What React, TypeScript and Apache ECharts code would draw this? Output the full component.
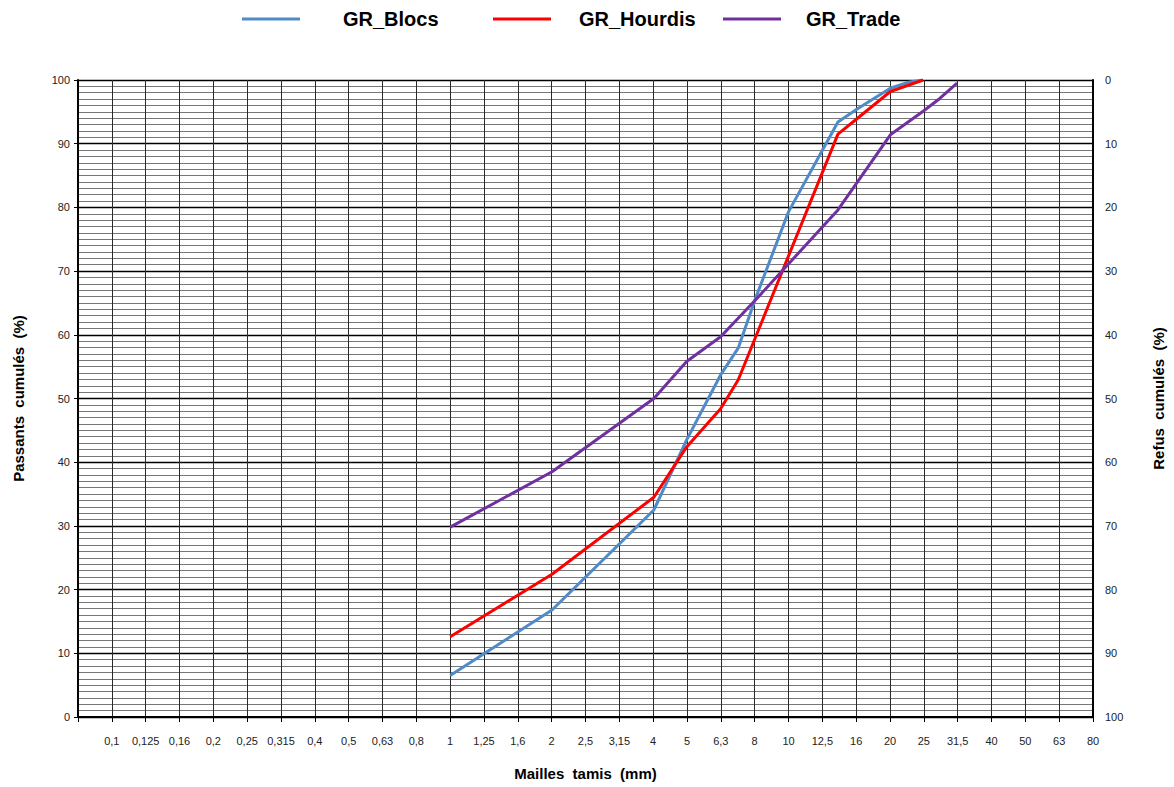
import React, { useEffect, useRef } from "react";
import * as echarts from "echarts";

// Sieve tick labels (R10 series), first grid line (0,08) unlabeled
const tickLabels = [
  "", "0,1", "0,125", "0,16", "0,2", "0,25", "0,315", "0,4", "0,5", "0,63", "0,8",
  "1", "1,25", "1,6", "2", "2,5", "3,15", "4", "5", "6,3", "8", "10", "12,5",
  "16", "20", "25", "31,5", "40", "50", "63", "80",
];

const seriesNames = ["GR_Blocs", "GR_Hourdis", "GR_Trade"];
const seriesColors = ["#4F8AC9", "#FF0000", "#7030A0"];

const blocsSizes = [1, 2, 4, 5, 6.3, 7.1, 8, 10, 14, 16, 20, 22.4, 25];
const blocsValues = [6.5, 16.8, 32.5, 43.5, 53.7, 57.9, 65.8, 79.3, 93.4, 95.5, 98.7, 99.6, 100];

const hourdisSizes = [1, 2, 4, 5, 6.3, 7.1, 14, 16, 20, 25];
const hourdisValues = [12.6, 22.4, 34.5, 42.4, 48.4, 52.9, 91.5, 94, 98.2, 100];

const tradeSizes = [1, 2, 4, 5, 6.3, 8, 14, 20, 25, 28, 31.5];
const tradeValues = [29.8, 38.5, 50, 55.8, 59.7, 65.5, 79.6, 91.4, 95.1, 97.1, 99.5];

const FONT = "'Liberation Sans', Arial, sans-serif";
const NARROW = "'Liberation Sans Narrow', 'Liberation Sans', Arial, sans-serif";

// log scale position: 10*log10(size) -> one grid step per R10 sieve
const toX = (s: number) => 10 * Math.log10(s);

export default function App() {
  const ref = useRef<HTMLDivElement>(null);
  useEffect(() => {
    if (!ref.current) return;
    const chart = echarts.init(ref.current, undefined, { renderer: "svg" });
    const sizesList = [blocsSizes, hourdisSizes, tradeSizes];
    const valuesList = [blocsValues, hourdisValues, tradeValues];
    const legendLefts = [237, 488, 718];
    const legendPads = [38, 23, 20];
    chart.setOption({
      animation: false,
      backgroundColor: "#ffffff",
      legend: seriesNames.map((n, i) => ({
        data: [n],
        left: legendLefts[i],
        top: 4,
        icon: "rect",
        itemWidth: 58,
        itemHeight: 3,
        selectedMode: false,
        textStyle: {
          fontFamily: FONT,
          fontSize: 20,
          fontWeight: "bold",
          color: "#000",
          padding: [0, 0, 0, legendPads[i]],
        },
      })),
      grid: { left: 78, right: 75, top: 80, bottom: 70, containLabel: false },
      xAxis: {
        type: "value",
        min: -11,
        max: 19,
        interval: 1,
        name: "Mailles  tamis  (mm)",
        nameLocation: "middle",
        nameGap: 49,
        nameTextStyle: { fontFamily: FONT, fontSize: 15, fontWeight: "bold", color: "#000" },
        axisLine: { show: true, onZero: false, lineStyle: { color: "#000", width: 2 } },
        axisTick: { show: true, length: 5, lineStyle: { color: "#000", width: 1 } },
        axisLabel: {
          margin: 18,
          fontFamily: NARROW,
          fontSize: 11,
          color: "#222",
          formatter: (v: number) => tickLabels[Math.round(v) + 11] ?? "",
        },
        splitLine: { show: true, lineStyle: { color: "#2a2a2a", width: 1 } },
      },
      yAxis: [
        {
          type: "value",
          min: 0,
          max: 100,
          interval: 10,
          position: "left",
          name: "Passants  cumulés  (%)",
          nameLocation: "middle",
          nameRotate: 90,
          nameGap: 52,
          nameTextStyle: { fontFamily: FONT, fontSize: 15, fontWeight: "bold", color: "#000" },
          axisLine: { show: true, onZero: false, lineStyle: { color: "#000", width: 2 } },
          axisTick: { show: true, length: 4, lineStyle: { color: "#000" } },
          axisLabel: { margin: 8, fontFamily: NARROW, fontSize: 11, color: "#222" },
          splitLine: { show: true, lineStyle: { color: "#000", width: 1.3 } },
          minorTick: { show: false, splitNumber: 10 },
          minorSplitLine: { show: true, lineStyle: { color: "#777", width: 1 } },
        },
        {
          type: "value",
          min: 0,
          max: 100,
          interval: 10,
          inverse: true,
          position: "right",
          name: "Refus  cumulés  (%)",
          nameLocation: "middle",
          nameRotate: 90,
          nameGap: 58,
          nameTextStyle: { fontFamily: FONT, fontSize: 15, fontWeight: "bold", color: "#000" },
          axisLine: { show: true, onZero: false, lineStyle: { color: "#000", width: 2 } },
          axisTick: { show: false },
          axisLabel: { margin: 12, fontFamily: NARROW, fontSize: 11, color: "#222" },
          splitLine: { show: false },
        },
      ],
      series: seriesNames.map((n, i) => ({
        name: n,
        type: "line",
        yAxisIndex: 0,
        symbol: "none",
        color: seriesColors[i],
        lineStyle: { width: 3, color: seriesColors[i] },
        data: sizesList[i].map((s, j) => [toX(s), valuesList[i][j]]),
      })),
    });
    return () => chart.dispose();
  }, []);
  return (
    <div
      ref={ref}
      style={{ position: "fixed", left: 0, top: 0, width: 1174, height: 787, background: "#fff" }}
    />
  );
}
